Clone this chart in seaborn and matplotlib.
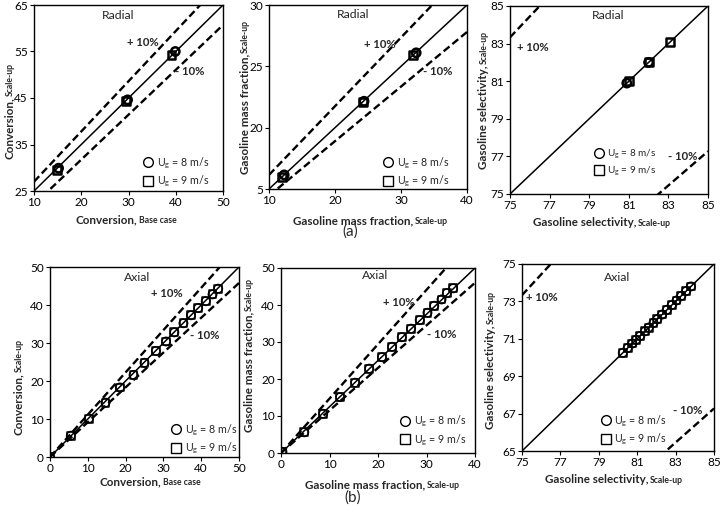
import numpy as np
import matplotlib
matplotlib.use("Agg")
import matplotlib.pyplot as plt
import seaborn as sns
from matplotlib.lines import Line2D

sns.set_style("white")
plt.rcParams['font.family'] = ['Lato', 'DejaVu Sans']
plt.rcParams['mathtext.fontset'] = 'custom'
plt.rcParams['mathtext.rm'] = 'Lato'
plt.rcParams['mathtext.bf'] = 'Lato:bold'
plt.rcParams['mathtext.it'] = 'Lato:italic'

# ---------------- data ----------------
# (a) Radial
tl_c_x = [15.2, 29.8, 39.9]
tl_c_y = [29.9, 44.6, 55.0]
tl_s_x = [14.9, 29.4, 39.1]
tl_s_y = [29.6, 44.3, 54.2]

tm_c_x = [12.3, 24.4, 32.3]
tm_c_y = [12.3, 24.3, 32.2]
tm_s_x = [12.0, 24.2, 31.8]
tm_s_y = [12.0, 24.2, 31.8]

tr_c_x = [80.9, 82.0]
tr_c_y = [80.9, 82.0]
tr_s_x = [81.0, 82.0, 83.1]
tr_s_y = [81.0, 82.0, 83.1]

# (b) Axial
bl_x = [0.0, 5.5, 10.3, 14.7, 18.5, 22.1, 25.0, 28.0, 30.7, 32.9, 35.3, 37.3, 39.2, 41.2, 43.0, 44.5]
bl_y = [0.0, 5.6, 10.1, 14.3, 18.3, 21.6, 24.8, 27.9, 30.4, 32.8, 35.2, 37.3, 39.2, 41.0, 42.8, 44.3]

bm_x = [0.3, 4.8, 8.7, 12.2, 15.3, 18.2, 20.8, 22.9, 24.9, 26.8, 28.6, 30.2, 31.6, 33.1, 34.2, 35.5]
bm_y = [0.3, 5.6, 10.6, 15.1, 19.0, 22.8, 25.9, 28.7, 31.3, 33.6, 35.9, 37.9, 39.8, 41.5, 43.2, 44.5]

br_x = [80.25, 80.5, 80.75, 80.95, 81.15, 81.4, 81.6, 81.85, 82.05, 82.3, 82.55, 82.8, 83.05, 83.3, 83.55, 83.8]
br_y = [70.25, 70.5, 70.75, 70.95, 71.15, 71.4, 71.6, 71.85, 72.05, 72.3, 72.55, 72.8, 73.05, 73.3, 73.55, 73.8]

# reference lines (slope, intercept) per panel: parity line, +10 %, -10 %
diag_lines = [(1.0, 15.0), (1.0, 0.0), (1.0, 0.0), (1.0, 0.0), (1.25, 0.0), (1.0, -10.0)]
upper_lines = [(1.08, 16.2), (1.12, 1.1), (1 / 0.9, 0.0), (1.113, 0.0), (1.47, 0.0), (1 / 0.9, -10.0)]
lower_lines = [(0.965, 12.45), (0.89, 0.0), (1 / 1.1, 0.0), (0.916, 0.0), (1.15, 0.0), (1 / 1.1, -10.0)]

# axes ranges and ticks
x_limits = [(10, 50), (10, 40), (75, 85), (0, 50), (0, 40), (75, 85)]
y_limits = [(25, 65), (10, 40), (75, 85), (0, 50), (0, 50), (65, 75)]
x_ticks = [[10, 20, 30, 40, 50], [10, 20, 30, 40], [75, 77, 79, 81, 83, 85],
           [0, 10, 20, 30, 40, 50], [0, 10, 20, 30, 40], [75, 77, 79, 81, 83, 85]]
y_ticks = [[25, 35, 45, 55, 65], [10, 20, 30, 40], [75, 77, 79, 81, 83, 85],
           [0, 10, 20, 30, 40, 50], [0, 10, 20, 30, 40, 50], [65, 67, 69, 71, 73, 75]]
y_tick_labels = [None, ['5', '20', '25', '30'], None, None, None, None]

x_names = [("Conversion", "Base case"), ("Gasoline mass fraction", "Scale-up"),
           ("Gasoline selectivity", "Scale-up"), ("Conversion", "Base case"),
           ("Gasoline mass fraction", "Scale-up"), ("Gasoline selectivity", "Scale-up")]
y_names = [("Conversion", "Scale-up"), ("Gasoline mass fraction", "Scale-up"),
           ("Gasoline selectivity", "Scale-up"), ("Conversion", "Scale-up"),
           ("Gasoline mass fraction", "Scale-up"), ("Gasoline selectivity", "Scale-up")]
panel_titles = ["Radial", "Radial", "Radial", "Axial", "Axial", "Axial"]
legend_labels = ["U$_\\mathregular{g}$ = 8 m/s", "U$_\\mathregular{g}$ = 9 m/s"]

circ_x = [tl_c_x, tm_c_x, tr_c_x, bl_x, bm_x, br_x]
circ_y = [tl_c_y, tm_c_y, tr_c_y, bl_y, bm_y, br_y]
sq_x = [tl_s_x, tm_s_x, tr_s_x, bl_x, bm_x, br_x]
sq_y = [tl_s_y, tm_s_y, tr_s_y, bl_y, bm_y, br_y]

# ---------------- layout (pixels) ----------------
W, H = 720, 516
boxes_px = [(34, 5, 223, 191), (269, 5, 467, 189), (510, 6, 708, 194),
            (50, 267, 239, 457), (281, 268, 475, 453), (522, 264, 714, 451)]
title_pos = [(0.445, 0.946), (0.424, 0.946), (0.495, 0.952), (0.46, 0.947), (0.485, 0.957), (0.495, 0.93)]
plus_pos = [(0.577, 0.796), (0.56, 0.783), (0.116, 0.78), (0.62, 0.863), (0.61, 0.816), (0.104, 0.82)]
minus_pos = [(0.825, 0.64), (0.853, 0.636), (0.875, 0.2), (0.82, 0.637), (0.83, 0.643), (0.865, 0.214)]
legend_pos = [(0.608, 0.10), (0.606, 0.09), (0.455, 0.165), (0.67, 0.094), (0.644, 0.119), (0.44, 0.11)]
legend_fs = [7.7, 7.7, 7.2, 7.7, 7.7, 7.7]
xlab_px = [(126, 219), (370, 220), (602, 222), (150, 481), (382, 484), (614, 479)]
ylab_px = [(9, 111), (244, 97), (483, 100), (18, 387), (248, 355), (490, 360)]
mark_lw = [1.8, 1.8, 1.8, 1.1, 1.1, 1.1]

MAIN_FS, SUB_FS = 8.4, 6.2

fig = plt.figure(figsize=(W / 100, H / 100), dpi=100)
fig.patch.set_facecolor('white')
renderer = fig.canvas.get_renderer()


def text_width(s, size):
    t = fig.text(0, 0, s, fontsize=size, fontweight='bold')
    w = t.get_window_extent(renderer).width
    t.remove()
    return w


def two_part_label(cx, cy, main, sub, vertical):
    w1 = text_width(main + ",", MAIN_FS) + 1.5
    w2 = text_width(sub, SUB_FS)
    total = w1 + w2
    cap = MAIN_FS * 100 / 72 * 0.72
    kw1 = dict(fontsize=MAIN_FS, fontweight='bold', ha='left', va='baseline')
    kw2 = dict(fontsize=SUB_FS, fontweight='bold', ha='left', va='baseline')
    if not vertical:
        x = cx - total / 2
        yb = cy + cap / 2
        fig.text(x / W, 1 - yb / H, main + ",", **kw1)
        fig.text((x + w1) / W, 1 - yb / H, sub, **kw2)
    else:
        ys = cy + total / 2
        xb = cx + cap / 2
        fig.text(xb / W, 1 - ys / H, main + ",", rotation=90, rotation_mode='anchor', **kw1)
        fig.text(xb / W, 1 - (ys - w1) / H, sub, rotation=90, rotation_mode='anchor', **kw2)


for i in range(6):
    l, t, r, b = boxes_px[i]
    ax = fig.add_axes([l / W, 1 - b / H, (r - l) / W, (b - t) / H])
    x0, x1 = x_limits[i]
    xs = np.linspace(x0, x1, 400)
    m, c = diag_lines[i]
    ax.plot(xs, m * xs + c, color='black', lw=1.1, zorder=2)
    for (m, c) in (upper_lines[i], lower_lines[i]):
        ax.plot(xs, m * xs + c, color='black', lw=1.7, ls=(0, (3.2, 1.6)), zorder=2)
    sns.scatterplot(x=circ_x[i], y=circ_y[i], ax=ax, marker='o', s=36, color='black',
                    facecolor='none', edgecolor='black', linewidth=mark_lw[i], zorder=3)
    sns.scatterplot(x=sq_x[i], y=sq_y[i], ax=ax, marker='s', s=32, color='black',
                    facecolor='none', edgecolor='black', linewidth=mark_lw[i], zorder=4)
    ax.set_xlim(x_limits[i])
    ax.set_ylim(y_limits[i])
    ax.set_xticks(x_ticks[i])
    ax.set_yticks(y_ticks[i])
    if y_tick_labels[i] is not None:
        ax.set_yticklabels(y_tick_labels[i])
    ax.tick_params(direction='out', length=3, width=0.8, labelsize=8.5, colors='black', pad=1.5,
                   bottom=True, left=True)
    for sp in ax.spines.values():
        sp.set_color('black')
        sp.set_linewidth(1.0)
    ax.set_xlabel("")
    ax.set_ylabel("")
    ax.text(*title_pos[i], panel_titles[i], transform=ax.transAxes, ha='center', va='center', fontsize=8.8)
    ax.text(*plus_pos[i], "+ 10%", transform=ax.transAxes, ha='center', va='center', fontsize=8.2, fontweight='bold')
    ax.text(*minus_pos[i], "- 10%", transform=ax.transAxes, ha='center', va='center', fontsize=8.2, fontweight='bold')
    handles = [Line2D([], [], marker='o', ls='none', mfc='none', mec='black', ms=7, mew=1.0, label=legend_labels[0]),
               Line2D([], [], marker='s', ls='none', mfc='none', mec='black', ms=6.5, mew=1.0, label=legend_labels[1])]
    axw = r - l
    lx, ly = legend_pos[i]
    ax.legend(handles=handles, loc='center left', bbox_to_anchor=(lx - 6 / axw, ly), frameon=False,
              fontsize=legend_fs[i], handlelength=1.0, handletextpad=0.3, labelspacing=0.3, borderpad=0,
              borderaxespad=0)
    two_part_label(*xlab_px[i], *x_names[i], vertical=False)
    two_part_label(*ylab_px[i], *y_names[i], vertical=True)

fig.text(350 / W, 1 - 232 / H, "(a)", ha='center', va='center', fontsize=11)
fig.text(353 / W, 1 - 498 / H, "(b)", ha='center', va='center', fontsize=11)

fig.savefig("out.png", dpi=100, facecolor='white')
